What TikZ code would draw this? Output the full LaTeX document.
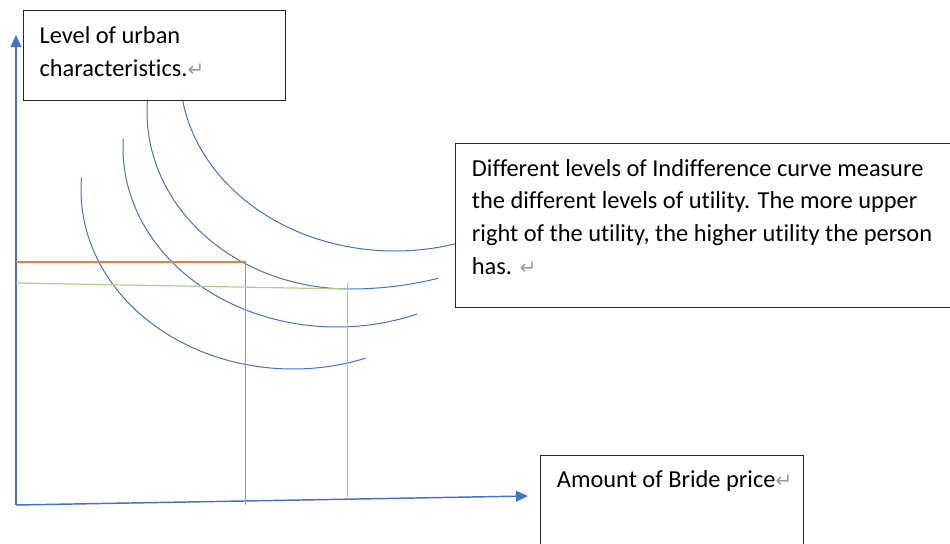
\documentclass[tikz,border=0pt]{standalone}
\usepackage{fontspec}
\setmainfont{Carlito}[Ligatures=NoCommon]
\newfontfamily\symfont{DejaVu Sans}
\usepackage{tikz}
\usetikzlibrary{arrows.meta}
\usetikzlibrary{positioning}
\definecolor{axisblue}{HTML}{4472C4}
\definecolor{lineorange}{HTML}{ED7D31}
\definecolor{linegreen}{HTML}{A9D18E}
\newcommand{\retmark}{{\symfont\fontsize{15}{15}\selectfont\color{black!40}↵}}

\begin{document}
\begin{tikzpicture}[x=0.75pt,y=-0.75pt,>={Triangle[length=9pt,width=8pt]}]
		\tikzstyle{axis}=[axisblue,line width=1.1pt,->];
		\tikzstyle{curve}=[axisblue,line width=0.75pt];
		\tikzstyle{textbox}=[rectangle,draw=black!85,fill=white,line width=0.8pt,anchor=north west,inner sep=0pt];
		\tikzstyle{boxtext}=[inner sep=0pt,align=left,font=\fontsize{18.3}{24.5}\selectfont];
		\useasboundingbox (0,0) rectangle (950,543);

		% axes
		\coordinate (o) at (16,505);
		\coordinate (ytip) at (16,35);
		\coordinate (xtip) at (528,496);
		\draw[axis] (o)--(ytip);
		\draw[axis] (o)--(xtip);

		% indifference curves
		\coordinate (c1) at (395,72);
		\coordinate (c2) at (350,112);
		\coordinate (c3) at (337,148);
		\coordinate (c4) at (293,190);
		\draw[curve] (c1) ++(190:215 and 179) arc[start angle=190,end angle=60,x radius=215,y radius=179];
		\draw[curve] (c2) ++(190:203 and 177) arc[start angle=190,end angle=90,x radius=203,y radius=177]
			arc[start angle=90,end angle=70,x radius=257,y radius=177];
		\draw[curve] (c3) ++(183:214 and 179) arc[start angle=183,end angle=68,x radius=214,y radius=179];
		\draw[curve] (c4) ++(184:212 and 179) arc[start angle=184,end angle=70,x radius=212,y radius=179];

		% optimum points
		\coordinate (a) at (245.5,262);
		\draw[lineorange,line width=0.9pt] (o|-a)--(a)--(a|-o);
		\coordinate (b) at (347.5,289);
		\coordinate (b0) at (16,283);
		\coordinate (b1) at (347.5,283);
		\coordinate (b2) at (347.5,497);
		\draw[linegreen,line width=0.9pt] (b0)--(b);
		\draw[linegreen,line width=0.9pt] (b1)--(b2);

		% boxes
		\node[textbox,minimum width=196.5pt,minimum height=67.5pt] (ytitle) at (23,10){};
		\node[boxtext,below right=12.2pt and 12.2pt of ytitle.north west] (ytext){Level of urban\\characteristics.\retmark};

		\node[textbox,minimum width=378.75pt,minimum height=123pt] (note) at (455,143){};
		\node[boxtext,below right=12pt and 12.5pt of note.north west] (notetext){Different levels of Indifference curve measure\\the different levels of utility. The more upper\\right of the utility, the higher utility the person\\has. \retmark};

		\node[textbox,minimum width=197.25pt,minimum height=78.75pt] (xtitle) at (540,455){};
		\node[boxtext,below right=11.75pt and 12.5pt of xtitle.north west] (xtext){Amount of Bride price\retmark};
	\end{tikzpicture}
\end{document}
